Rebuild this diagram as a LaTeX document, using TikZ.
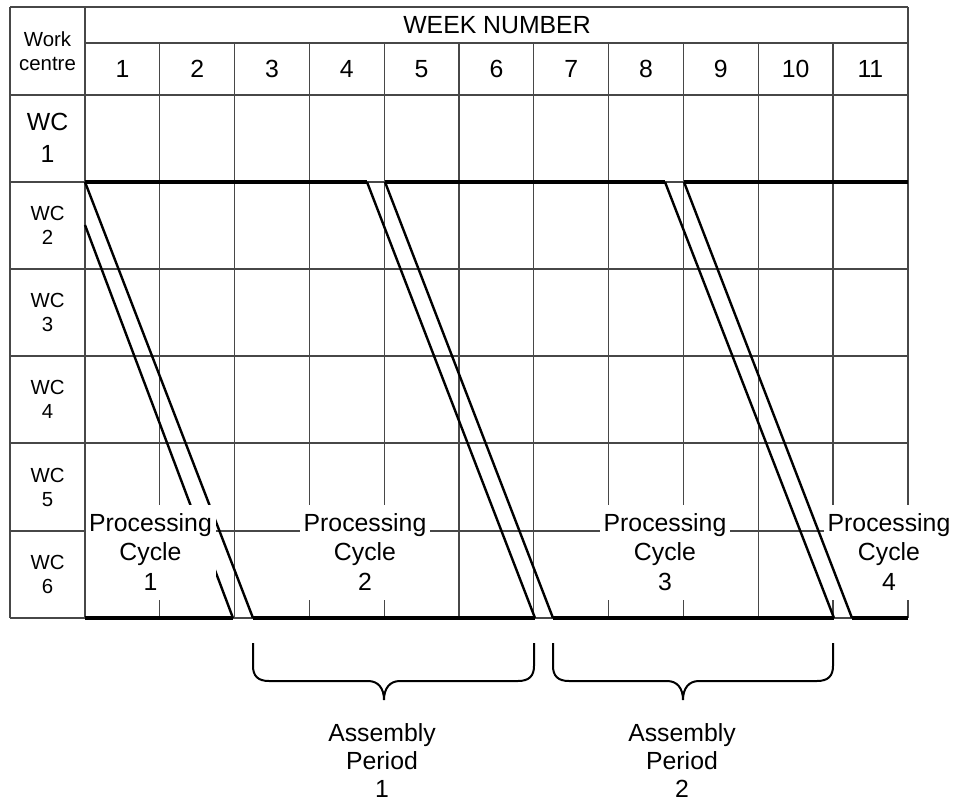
\documentclass[tikz,border=0pt]{standalone}
\usepackage{fontspec}
\setmainfont{Liberation Sans}
\begin{document}
\begin{tikzpicture}[x=0.5pt,y=-0.5pt,
  gridline/.style={draw=black!72, line width=0.55pt},
  thickbar/.style={line width=2pt, line cap=butt},
  diag/.style={line width=1.2pt},
  bigtext/.style={font=\fontsize{12.4}{14.6}\selectfont, align=center, inner sep=0pt},
  smalltext/.style={font=\fontsize{10.2}{12}\selectfont, align=center, inner sep=0pt},
  cyclelabel/.style={bigtext, fill=white, minimum width=65pt, minimum height=47.5pt},
  bracepath/.style={line width=1pt},
  assemblylabel/.style={font=\fontsize{12.4}{14}\selectfont, align=center, inner sep=0pt}]
\useasboundingbox (0,0) rectangle (954,803);

% ---------- grid ----------
\foreach \y in {7,95,182,269,356,443,531,618}
  \draw[gridline] (10,\y) -- (908,\y);
\draw[gridline] (85,43) -- (908,43);
\draw[gridline] (10,7) -- (10,618);
\draw[gridline] (85,7) -- (85,618);
\draw[gridline] (908,7) -- (908,618);
\foreach \i in {1,...,10}
  \draw[gridline] ({85+74.8*\i},43) -- ({85+74.8*\i},618);

% ---------- header texts ----------
\node[smalltext] (wc) at (47.5,51) {Work\\centre};
\node[bigtext] (wn) at (497,25) {WEEK NUMBER};
\foreach \i in {1,...,11}
  \node[bigtext] (w\i) at ({85+74.8*(\i-0.5)},69) {\i};
\node[bigtext, font=\fontsize{12.4}{16}\selectfont] (wc1) at (47.5,138) {WC\\1};
\node[smalltext] (wc2) at (47.5,225) {WC\\2};
\node[smalltext] (wc3) at (47.5,312) {WC\\3};
\node[smalltext] (wc4) at (47.5,399) {WC\\4};
\node[smalltext] (wc5) at (47.5,487) {WC\\5};
\node[smalltext] (wc6) at (47.5,574) {WC\\6};

% ---------- key points ----------
\coordinate (t0) at (85,182);
\coordinate (t1) at (367,182);
\coordinate (t2) at (385,182);
\coordinate (t3) at (665,182);
\coordinate (t4) at (684,182);
\coordinate (t5) at (908,182);
\coordinate (s0) at (85,225);
\coordinate (b0) at (85,618);
\coordinate (b1) at (233,618);
\coordinate (b2) at (253,618);
\coordinate (b3) at (535,618);
\coordinate (b4) at (553,618);
\coordinate (b5) at (834,618);
\coordinate (b6) at (852,618);
\coordinate (b7) at (908,618);

% ---------- diagonals (cycles 1 and 2) ----------
\draw[diag] (t0) -- (b2);
\draw[diag] (s0) -- (b1);
\draw[diag] (t1) -- (b3);
\draw[diag] (t2) -- (b4);

% ---------- processing cycle labels ----------
\node[cyclelabel] (pc1) at (150.5,552) {Processing\\Cycle\\1};
\node[cyclelabel] (pc2) at (365,552) {Processing\\Cycle\\2};
\node[cyclelabel] (pc3) at (665,552) {Processing\\Cycle\\3};
\node[cyclelabel] (pc4) at (889,552) {Processing\\Cycle\\4};

% ---------- diagonals (cycle 3) ----------
\draw[diag] (t3) -- (b5);
\draw[diag] (t4) -- (b6);

% ---------- thick bars ----------
\draw[thickbar] (t0) -- (t1);
\draw[thickbar] (t2) -- (t3);
\draw[thickbar] (t4) -- (t5);
\draw[thickbar] (b0) -- (b1);
\draw[thickbar] (b2) -- (b3);
\draw[thickbar] (b4) -- (b5);
\draw[thickbar] (b6) -- (b7);

% ---------- braces ----------
\draw[bracepath] (253,643) -- (253,666)
  .. controls (253,676) and (258,681) .. (269,681) -- (368,681)
  .. controls (378,681) and (384,688) .. (384,700)
  .. controls (384,688) and (390,681) .. (400,681) -- (518,681)
  .. controls (529,681) and (534,676) .. (534,666) -- (534,643);
\draw[bracepath] (553,643) -- (553,666)
  .. controls (553,676) and (558,681) .. (569,681) -- (667,681)
  .. controls (677,681) and (683,688) .. (683,700)
  .. controls (683,688) and (689,681) .. (699,681) -- (817,681)
  .. controls (828,681) and (833,676) .. (833,666) -- (833,643);

% ---------- assembly labels ----------
\node[assemblylabel] (ap1) at (382,760.5) {Assembly\\Period\\1};
\node[assemblylabel] (ap2) at (682,760.5) {Assembly\\Period\\2};
\end{tikzpicture}
\end{document}
